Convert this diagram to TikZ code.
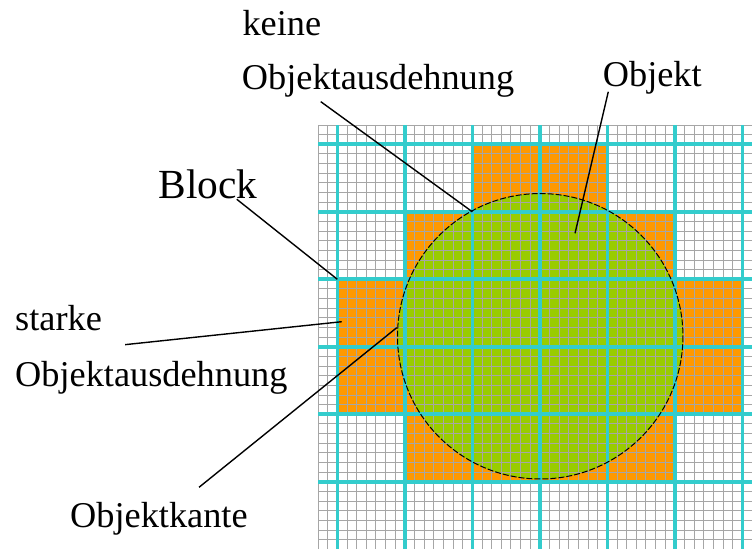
\documentclass[tikz,border=0pt]{standalone}
\usepackage{fontspec}
\setmainfont{Liberation Serif}
\usepackage{xcolor}
\usepackage{tikz}
\definecolor{blockorange}{HTML}{FF9900}
\definecolor{objgreen}{HTML}{99CC00}
\definecolor{blockcyan}{HTML}{33CCCC}
\definecolor{finegray}{HTML}{A6A6A6}
\tikzset{
  lbl/.style={anchor=base west, inner sep=0pt, font=\fontsize{36.3bp}{40bp}\selectfont},
  leader/.style={line width=1.4bp, black},
}
\begin{document}
\begin{tikzpicture}[x=9.643bp, y=-9.643bp]
			\useasboundingbox (-32.98,-12.96) rectangle (45,43.87);
			% Blöcke mit Objektanteil
			\foreach \r/\a/\b in {0/2/3,1/1/4,2/0/5,3/0/5,4/1/4}
			\fill [blockorange] (2+7*\a,2+7*\r) rectangle (9+7*\b,9+7*\r);
			% Objekt
			\fill [objgreen] (23.04,21.91) circle (14.8);
			% Feines Raster
			\foreach \x in {0,...,45}
			\draw [finegray, line width=0.9bp] (\x,0) -- (\x,44);
			\foreach \y in {0,...,44}
			\draw [finegray, line width=0.9bp] (0,\y) -- (45,\y);
			% Blockgrenzen
			\foreach \x in {2,9,...,44}
			\draw [blockcyan, line width=3.6bp] (\x,0) -- (\x,44);
			\foreach \y in {2,9,...,37}
			\draw [blockcyan, line width=3.6bp] (0,\y) -- (45,\y);
			% Objektkante
			\draw [black, line width=1bp, dash pattern=on 6bp off 2bp] (23.04,21.91) circle (14.8);
			
			% Beschriftungen
			\node [lbl] (keine) at (-7.85,-9.23) {keine};
			\node [lbl] (ausdehnungA) at (-7.91,-3.63) {Objektausdehnung};
			\node [lbl] (objekt) at (29.52,-3.97) {Objekt};
			\node [lbl, font=\fontsize{41.4bp}{45bp}\selectfont] (block) at (-16.56,7.67) {Block};
			\node [lbl] (starke) at (-31.42,21.33) {starke};
			\node [lbl] (ausdehnungB) at (-31.42,27.17) {Objektausdehnung};
			\node [lbl] (kante) at (-25.72,41.69) {Objektkante};
			
			% Hinweislinien
			\coordinate (keineA) at (0.28,-2.42);
			\coordinate (keineB) at (16,9);
			\coordinate (objektA) at (30.1,-3.45);
			\coordinate (objektB) at (26.65,11.23);
			\coordinate (blockA) at (-8.43,7.7);
			\coordinate (blockB) at (2,16);
			\coordinate (starkeA) at (-20.01,22.78);
			\coordinate (starkeB) at (2.46,20.4);
			\coordinate (kanteA) at (-12.34,37.57);
			\coordinate (kanteB) at (8.16,21.02);
			\draw [leader] (keineA) -- (keineB);
			\draw [leader] (objektA) -- (objektB);
			\draw [leader] (blockA) -- (blockB);
			\draw [leader] (starkeA) -- (starkeB);
			\draw [leader] (kanteA) -- (kanteB);
		\end{tikzpicture}
\end{document}
